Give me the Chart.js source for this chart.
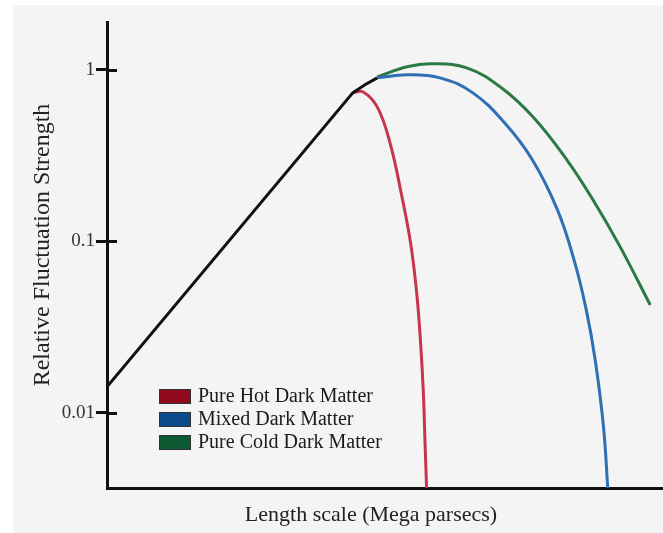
<!DOCTYPE html>
<html>
<head>
<meta charset="utf-8">
<script src="https://cdn.jsdelivr.net/npm/chart.js@4/dist/chart.umd.min.js"></script>
<style>
  html, body { margin: 0; padding: 0; background: #fff; }
  #wrap { width: 663px; height: 533px; position: relative; }
</style>
</head>
<body>
<div id="wrap"><canvas id="fluctChart"></canvas></div>
<script>
// values (x: arbitrary length units 0-100, y: relative strength)
const seriesNames = ['Pure Hot Dark Matter', 'Mixed Dark Matter', 'Pure Cold Dark Matter'];
const yTickValues = [0.01, 0.1, 1];
const xTitle = 'Length scale (Mega parsecs)';
const yTitle = 'Relative Fluctuation Strength';

const baseX = [0, 44.2, 46.4, 48.6];
const baseY = [0.0142, 0.734, 0.818, 0.898];

const hotX = [44.2, 46.0, 48.6, 50.9, 52.9, 54.6, 55.7, 56.4, 56.9, 57.2, 57.5];
const hotY = [0.734, 0.745, 0.608, 0.375, 0.192, 0.098, 0.0501, 0.0256, 0.0131, 0.00668, 0.0035];

const mixedX = [48.6, 54.0, 59.9, 65.8, 71.5, 76.5, 81.0, 84.0, 86.2, 87.8, 89.3, 90.1];
const mixedY = [0.898, 0.935, 0.898, 0.734, 0.491, 0.299, 0.153, 0.078, 0.0399, 0.0204, 0.00828, 0.0035];

const coldX = [48.6, 54.0, 58.6, 64.7, 70.7, 76.6, 82.7, 87.4, 92.3, 97.7];
const coldY = [0.910, 1.041, 1.084, 1.027, 0.796, 0.532, 0.299, 0.175, 0.0929, 0.0426];

function pts(xs, ys) {
  return xs.map((x, i) => ({ x: x, y: ys[i] }));
}

const serif = "'Liberation Serif', 'Times New Roman', serif";

// grey panel behind the plot, white strip on the left/top like the scan
const panelBg = {
  id: 'panelBg',
  beforeDraw(chart) {
    const ctx = chart.ctx;
    ctx.save();
    ctx.fillStyle = '#f4f4f4';
    ctx.fillRect(13, 5, chart.width - 13, chart.height - 5);
    ctx.restore();
  }
};

// tick marks cross the y axis, so draw the inner half too
const innerTicks = {
  id: 'innerTicks',
  afterDraw(chart) {
    const ctx = chart.ctx;
    const ys = chart.scales.y;
    const left = chart.chartArea.left;
    ctx.save();
    ctx.strokeStyle = '#111';
    ctx.lineWidth = 3;
    ys.ticks.forEach(t => {
      const py = Math.round(ys.getPixelForValue(t.value)) + 0.5;
      ctx.beginPath();
      ctx.moveTo(left, py);
      ctx.lineTo(left + 10, py);
      ctx.stroke();
    });
    ctx.restore();
  }
};

// axis titles, placed a little off-centre as in the original
const axisTitles = {
  id: 'axisTitles',
  afterDraw(chart) {
    const ctx = chart.ctx;
    ctx.save();
    ctx.fillStyle = '#222';
    ctx.textAlign = 'center';
    ctx.textBaseline = 'middle';
    ctx.font = '22px ' + serif;
    ctx.fillText(xTitle, 371, 515);
    ctx.translate(43, 245);
    ctx.rotate(-Math.PI / 2);
    ctx.font = '24px ' + serif;
    ctx.fillText(yTitle, 0, 0);
    ctx.restore();
  }
};

// legend sits inside the plot at the lower left
const boxLegend = {
  id: 'boxLegend',
  afterDraw(chart) {
    const ctx = chart.ctx;
    const area = chart.chartArea;
    const x0 = area.left + 52;
    let y0 = area.top + 367;
    ctx.save();
    ctx.font = '20px ' + serif;
    ctx.textBaseline = 'middle';
    chart.data.datasets.forEach(ds => {
      if (!ds.legendColor) return;
      ctx.fillStyle = ds.legendColor;
      ctx.fillRect(x0, y0, 32, 15);
      ctx.strokeStyle = '#333';
      ctx.lineWidth = 1;
      ctx.strokeRect(x0 + 0.5, y0 + 0.5, 31, 14);
      ctx.fillStyle = '#1a1a1a';
      ctx.fillText(ds.label, x0 + 39, y0 + 8);
      y0 += 23;
    });
    ctx.restore();
  }
};

new Chart(document.getElementById('fluctChart'), {
  type: 'line',
  data: {
    datasets: [
      {
        label: 'base',
        data: pts(baseX, baseY),
        borderColor: '#111',
        borderWidth: 3,
        tension: 0
      },
      {
        label: seriesNames[0],
        data: pts(hotX, hotY),
        borderColor: '#c8344e',
        legendColor: '#8e0a1c',
        borderWidth: 3,
        tension: 0.4
      },
      {
        label: seriesNames[1],
        data: pts(mixedX, mixedY),
        borderColor: '#2f6fb4',
        legendColor: '#0b4b8c',
        borderWidth: 3,
        tension: 0.4
      },
      {
        label: seriesNames[2],
        data: pts(coldX, coldY),
        borderColor: '#2b7a44',
        legendColor: '#0d5a32',
        borderWidth: 3,
        tension: 0.4
      }
    ]
  },
  options: {
    responsive: true,
    maintainAspectRatio: false,
    animation: false,
    layout: { padding: { top: 22, right: 0, left: 0, bottom: 0 } },
    elements: { point: { radius: 0 } },
    plugins: {
      legend: { display: false },
      tooltip: { enabled: false }
    },
    scales: {
      x: {
        type: 'linear',
        min: 0,
        max: 100,
        ticks: { display: false },
        grid: { display: false },
        border: { display: true, color: '#111', width: 3 },
        afterFit(scale) { scale.height = 45; }
      },
      y: {
        type: 'logarithmic',
        min: 0.00365,
        max: 1.9,
        afterBuildTicks(scale) {
          scale.ticks = yTickValues.map(v => ({ value: v }));
        },
        ticks: {
          color: '#333',
          font: { family: serif, size: 19 },
          padding: 1,
          callback: v => String(v)
        },
        grid: {
          drawOnChartArea: false,
          drawTicks: true,
          tickLength: 11,
          tickWidth: 3,
          tickColor: '#111'
        },
        border: { display: true, color: '#111', width: 3 },
        afterFit(scale) { scale.width = 107; }
      }
    }
  },
  plugins: [panelBg, innerTicks, axisTitles, boxLegend]
});
</script>
</body>
</html>
